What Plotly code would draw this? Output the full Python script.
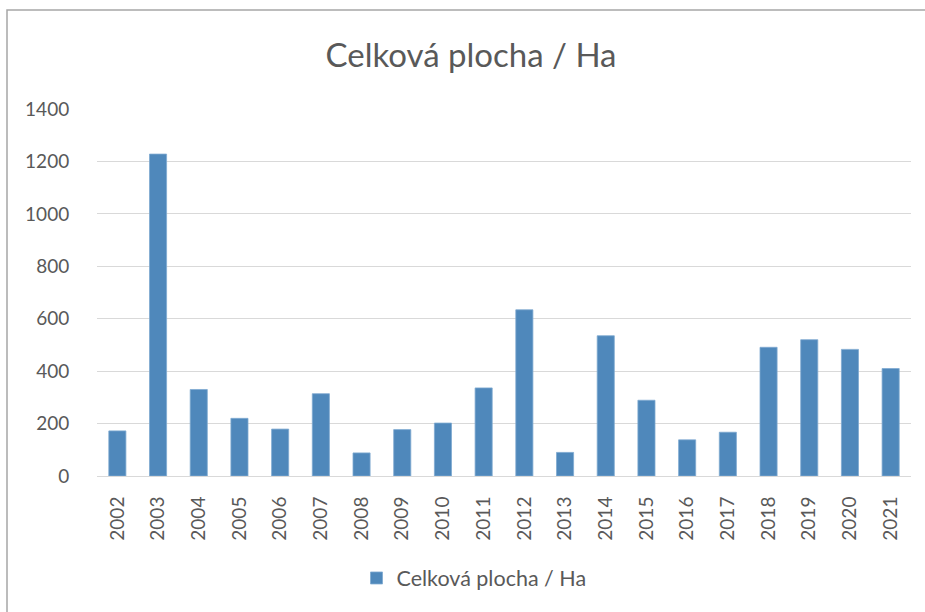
import plotly.graph_objects as go

years = ["2002", "2003", "2004", "2005", "2006", "2007", "2008", "2009", "2010", "2011",
         "2012", "2013", "2014", "2015", "2016", "2017", "2018", "2019", "2020", "2021"]
plocha = [172, 1228, 330, 220, 179, 314, 88, 177, 202, 336,
          634, 90, 535, 289, 138, 167, 491, 520, 483, 410]
series_name = "Celková plocha / Ha"
y_ticks = [0, 200, 400, 600, 800, 1000, 1200, 1400]

W, H = 925, 612
L, R, T, B = 97, 14, 109, 136
pw, ph = W - L - R, H - T - B

fig = go.Figure(go.Bar(
    x=years, y=plocha, name=series_name,
    marker=dict(color="#4f88bb", line=dict(color="#7fa9d0", width=0.8)),
    showlegend=True,
))

font = "Lato, 'Open Sans', sans-serif"
fig.update_layout(
    width=W, height=H,
    margin=dict(l=L, r=R, t=T, b=B, pad=0, autoexpand=False),
    paper_bgcolor="white", plot_bgcolor="white",
    bargap=0.58,
    font=dict(family=font, color="#595959", size=19),
    title=dict(text="Celková plocha / Ha", x=471 / W, xanchor="center",
               y=1 - 55 / H, yanchor="middle",
               font=dict(size=33, color="#595959", family=font)),
    xaxis=dict(type="category", tickangle=-90, showgrid=False, showline=False,
               ticks="outside", ticklen=12, tickcolor="rgba(0,0,0,0)",
               tickfont=dict(size=19, color="#595959")),
    yaxis=dict(range=[0, 1400], tickvals=y_ticks, showgrid=True, gridcolor="#d9d9d9",
               gridwidth=1.3, zeroline=True, zerolinecolor="#d9d9d9", zerolinewidth=1.3,
               showline=False, ticks="outside", ticklen=23, tickcolor="rgba(0,0,0,0)",
               tickfont=dict(size=19, color="#595959")),
    legend=dict(orientation="h", x=(474 - L) / pw, xanchor="center", y=-(578 - 476) / ph,
                yanchor="middle", font=dict(size=21.5, color="#595959"),
                bgcolor="rgba(0,0,0,0)", itemwidth=30),
)

fig.add_shape(type="rect", xref="paper", yref="paper",
              x0=(7 - L) / pw, x1=(935 - L) / pw,
              y0=-0.5, y1=(476 - 10) / ph,
              line=dict(color="#a6a6a6", width=1.5), fillcolor="rgba(0,0,0,0)", layer="below")

fig.write_html("out.html", config={"displayModeBar": False},
               post_script="document.body.style.margin='0';")
